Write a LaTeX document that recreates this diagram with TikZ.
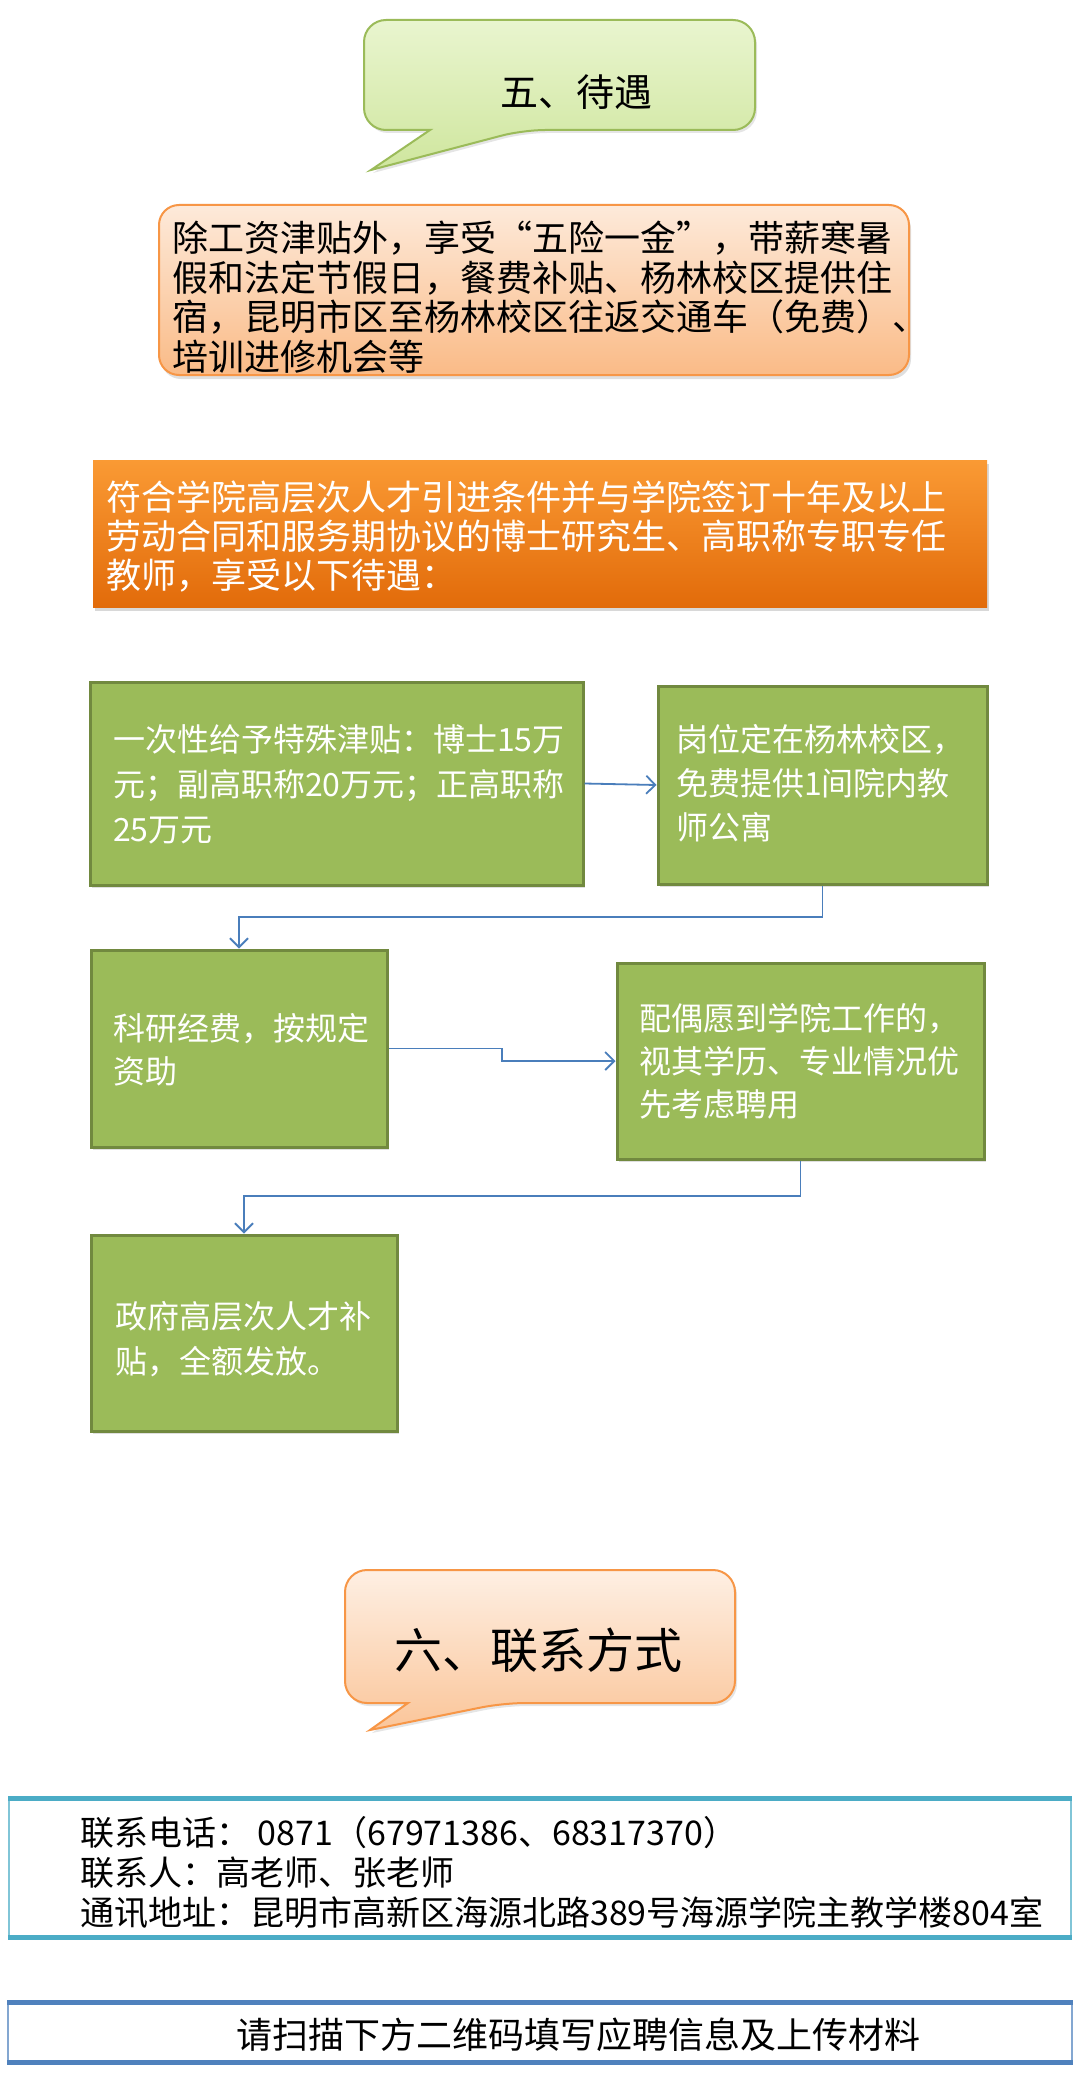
\documentclass[tikz,border=0pt]{standalone}
\usepackage{fontspec}
\setmainfont{Noto Sans CJK SC}
\usetikzlibrary{arrows.meta,shadows}
\definecolor{gfill}{HTML}{9BBB59}
\definecolor{gline}{HTML}{71893F}
\definecolor{arr}{HTML}{4A7EBB}
\definecolor{orline}{HTML}{F79646}
\definecolor{teal}{HTML}{4BACC6}
\definecolor{blueln}{HTML}{4F81BD}
\definecolor{lgtop}{HTML}{E9F5CF}
\definecolor{lgbot}{HTML}{CFE69E}
\definecolor{ortop}{HTML}{FA9A34}
\definecolor{orbot}{HTML}{E26B0A}
\begin{document}
\begin{tikzpicture}[x=1pt,y=-1pt,
  gbox/.style={draw=gline, fill=gfill, line width=3pt, rectangle, inner sep=0pt,
     drop shadow={opacity=0.25, shadow xshift=2pt, shadow yshift=-3pt}},
  txt/.style={inner sep=0pt, anchor=north west, align=left},
  wtxt/.style={txt, text=white},
  conn/.style={draw=arr, line width=1.8pt, -{Straight Barb[length=9pt,width=18pt]}}]
\useasboundingbox (0,0) rectangle (1080,2079);
\fill[white] (0,0) rectangle (1080,2079);

% top callout
\path[draw=gfill, line width=2pt, top color=lgtop, bottom color=lgbot,
  drop shadow={opacity=0.2, shadow xshift=2pt, shadow yshift=-3pt}]
  (560,20) [rounded corners=22pt] -- (755,20) -- (755,130) -- (523,130)
  [sharp corners] -- (371,170) -- (430,130) [rounded corners=22pt] -- (364,130) -- (364,20) -- cycle;
\node[inner sep=0pt, font=\fontsize{38}{40}\selectfont] (t1) at (576,92) {五、待遇};

% box2
\node[rectangle, rounded corners=20pt, draw=orline, line width=2pt,
  top color=orline!20!white, bottom color=orline!65!white,
  minimum width=750pt, minimum height=170pt,
  drop shadow={opacity=0.25, shadow xshift=2pt, shadow yshift=-4pt}] (b2) at (534,290) {};
\node[txt, font=\fontsize{36}{39.5}\selectfont] (b2t) at (172,221)
  {除工资津贴外，享受“五险一金”，带薪寒暑\\假和法定节假日，餐费补贴、杨林校区提供住\\宿，昆明市区至杨林校区往返交通车（免费）、\\培训进修机会等};

% box3
\node[rectangle, top color=ortop, bottom color=orbot,
  minimum width=894pt, minimum height=147pt,
  drop shadow={opacity=0.3, shadow xshift=2pt, shadow yshift=-4pt}] (b3) at (540,533.5) {};
\node[wtxt, font=\fontsize{35}{39}\selectfont] (b3t) at (106,481)
  {符合学院高层次人才引进条件并与学院签订十年及以上\\劳动合同和服务期协议的博士研究生、高职称专职专任\\教师，享受以下待遇：};

% green boxes
\node[gbox, minimum width=493pt, minimum height=203pt] (g1) at (336.5,783.5) {};
\node[wtxt, font=\fontsize{32}{45}\selectfont] (g1t) at (113,724)
  {一次性给予特殊津贴：博士15万\\元；副高职称20万元；正高职称\\25万元};
\node[gbox, minimum width=329pt, minimum height=198pt] (g2) at (822.5,785) {};
\node[wtxt, font=\fontsize{32}{44}\selectfont] (g2t) at (676,724)
  {岗位定在杨林校区，\\免费提供1间院内教\\师公寓};
\node[gbox, minimum width=296pt, minimum height=197pt] (g3) at (239,1048.5) {};
\node[wtxt, font=\fontsize{32}{43}\selectfont] (g3t) at (113,1013)
  {科研经费，按规定\\资助};
\node[gbox, minimum width=367pt, minimum height=196pt] (g4) at (800.5,1061) {};
\node[wtxt, font=\fontsize{32}{43}\selectfont] (g4t) at (639,1003)
  {配偶愿到学院工作的，\\视其学历、专业情况优\\先考虑聘用};
\node[gbox, minimum width=306pt, minimum height=196pt] (g5) at (244,1333) {};
\node[wtxt, font=\fontsize{32}{45}\selectfont] (g5t) at (115,1301)
  {政府高层次人才补\\贴，全额发放。};

% connectors
\draw[conn] (g1.east) -- (g2.west);
\coordinate (k1) at (0,917);
\draw[conn] (g2.south) -- (g2.south |- k1) -| (g3.north);
\coordinate (k2) at (502,0);
\draw[conn] (g3.east) -- (g3.east -| k2) -- (g4.west -| k2) -- (g4.west);
\coordinate (k3) at (0,1196);
\draw[conn] (g4.south) -- (g4.south |- k3) -| (g5.north);

% second callout
\path[draw=orline, line width=2pt, top color=orline!15!white, bottom color=orline!55!white,
  drop shadow={opacity=0.2, shadow xshift=2pt, shadow yshift=-3pt}]
  (540,1570) [rounded corners=22pt] -- (735,1570) -- (735,1703) -- (503,1703)
  [sharp corners] -- (370,1730) -- (408,1703) [rounded corners=22pt] -- (345,1703) -- (345,1570) -- cycle;
\node[inner sep=0pt, font=\fontsize{48}{50}\selectfont] (t2) at (538,1650) {六、联系方式};

% contact box
\node[rectangle, draw=teal!70, line width=1.5pt, minimum width=1062pt, minimum height=137pt] (ct) at (540,1868) {};
\draw[teal, line width=5pt] (ct.north west) -- (ct.north east);
\draw[teal, line width=5pt] (ct.south west) -- (ct.south east);
\node[txt, font=\fontsize{34}{40}\selectfont] (ctt) at (80,1816)
  {联系电话：\ 0871（67971386、68317370）\\联系人：高老师、张老师\\通讯地址：昆明市高新区海源北路389号海源学院主教学楼804室};

% bottom box
\node[rectangle, draw=blueln!70, line width=1.5pt, minimum width=1064pt, minimum height=59pt] (bt) at (540,2032.5) {};
\draw[blueln, line width=5pt] (bt.north west) -- (bt.north east);
\draw[blueln, line width=5pt] (bt.south west) -- (bt.south east);
\node[inner sep=0pt, anchor=west, font=\fontsize{36}{40}\selectfont] (btt) at (236,2035)
  {请扫描下方二维码填写应聘信息及上传材料};
\end{tikzpicture}
\end{document}
